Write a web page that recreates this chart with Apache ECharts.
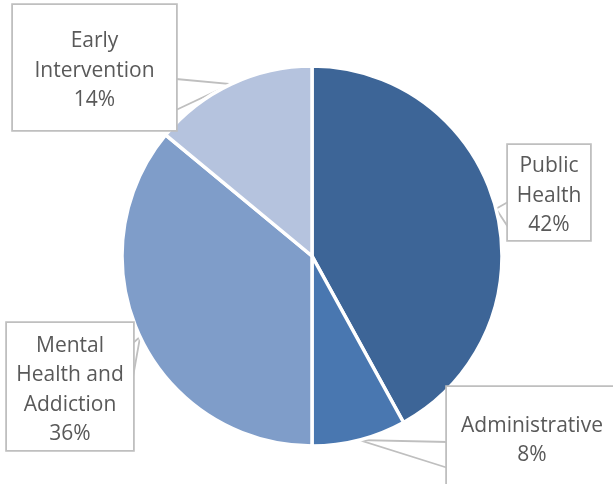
<!DOCTYPE html>
<html>
<head>
<meta charset="utf-8">
<script src="https://cdn.jsdelivr.net/npm/echarts@6/dist/echarts.min.js"></script>
<style>
  html, body { margin: 0; padding: 0; background: #ffffff; }
  #chart { width: 613px; height: 484px; }
</style>
</head>
<body>
<div id="chart"></div>
<script>
// Spending share by program area
const categories = ['Public Health', 'Administrative', 'Mental Health and Addiction', 'Early Intervention'];
const labelText = ['Public\nHealth', 'Administrative', 'Mental\nHealth and\nAddiction', 'Early\nIntervention'];
const shares = [42, 8, 36, 14];
const colors = ['#3d6597', '#4977b0', '#7f9dc9', '#b5c3de'];

// Callout boxes: top-left corner, size, and the two points where the pointer meets the box
const callouts = [
  { x: 508, y: 145, w: 82, h: 95, base: [[508, 202], [508, 227]] },
  { x: 447, y: 387, w: 170, h: 100, base: [[448, 442], [448, 468]] },
  { x: 7, y: 323, w: 126, h: 127, base: [[133, 343], [133, 377]] },
  { x: 13, y: 5, w: 163, h: 125, base: [[176, 79], [176, 110]] }
];
const lineH = 29.5;
const textDrop = 3.5;

const chart = echarts.init(document.getElementById('chart'), null, { renderer: 'canvas' });

const data = categories.map((name, i) => {
  const lines = labelText[i].split('\n').length + 1;
  const spare = callouts[i].h - lines * lineH;
  return {
    name: name,
    value: shares[i],
    itemStyle: { color: colors[i] },
    label: {
      width: callouts[i].w,
      padding: [spare / 2 + textDrop, 0, spare / 2 - textDrop, 0]
    }
  };
});

chart.setOption({
  animation: false,
  series: [{
    type: 'pie',
    center: [312, 256],
    radius: 190,
    startAngle: 90,
    clockwise: true,
    avoidLabelOverlap: false,
    itemStyle: { borderColor: '#ffffff', borderWidth: 3.5 },
    label: {
      show: true,
      position: 'outside',
      formatter: p => labelText[p.dataIndex] + '\n' + p.value + '%',
      fontFamily: 'Open Sans',
      fontSize: 21,
      lineHeight: lineH,
      color: '#595959',
      align: 'center',
      verticalAlign: 'top',
      backgroundColor: '#ffffff',
      borderColor: '#bfbfbf',
      borderWidth: 1.8
    },
    labelLine: {
      show: true,
      length: 10,
      length2: 10,
      lineStyle: { color: '#bfbfbf', width: 1.8 }
    },
    labelLayout: function (params) {
      const c = callouts[params.dataIndex];
      const tip = params.labelLinePoints ? params.labelLinePoints[0] : c.base[0];
      return {
        x: c.x + c.w / 2,
        y: c.y,
        align: 'center',
        verticalAlign: 'top',
        labelLinePoints: [c.base[0], tip, c.base[1]]
      };
    },
    data: data
  }]
});
</script>
</body>
</html>
